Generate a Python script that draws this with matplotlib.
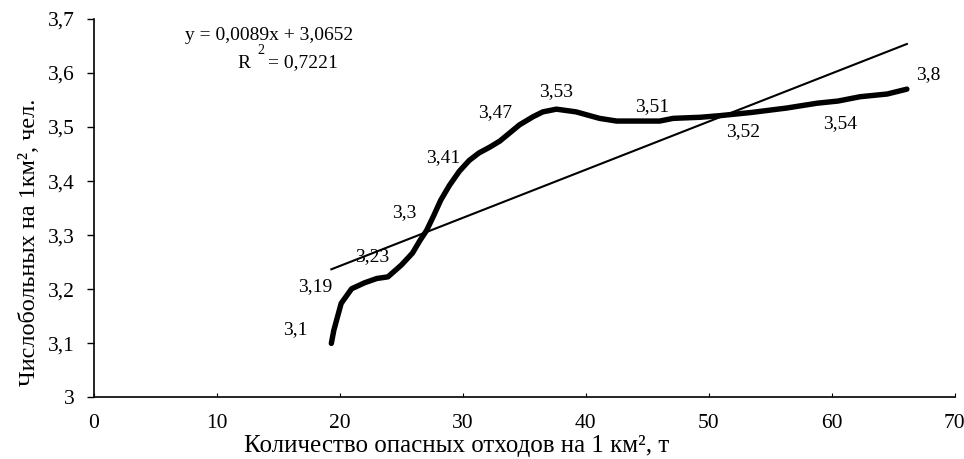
import matplotlib.pyplot as plt
import numpy as np

plt.rcParams['font.family'] = ['Liberation Serif', 'DejaVu Serif']

# Traced curve: waste per km² vs. patients per km²
waste = [19.3, 19.5, 20.1, 20.95, 22.0, 23.0, 23.9, 25.0, 25.9, 26.5, 27.05,
         27.6, 28.2, 28.9, 29.7, 30.5, 31.3, 32.2, 33.0, 34.6, 35.7, 36.5,
         37.6, 39.2, 41.1, 42.5, 46.0, 47.1, 49.3, 50.9, 53.5, 56.3, 58.8,
         60.5, 62.3, 64.5, 66.1]
patients = [3.100, 3.124, 3.174, 3.201, 3.212, 3.220, 3.223, 3.245, 3.267,
            3.290, 3.309, 3.335, 3.365, 3.392, 3.418, 3.438, 3.452, 3.463,
            3.474, 3.504, 3.519, 3.528, 3.533, 3.528, 3.516, 3.511, 3.511,
            3.516, 3.518, 3.521, 3.527, 3.535, 3.544, 3.548, 3.556, 3.561,
            3.570]

# Value labels and where they sit
label_text = ['3,1', '3,19', '3,23', '3,3', '3,41', '3,47', '3,53', '3,51',
              '3,52', '3,54', '3,8']
label_x = [16.4, 18.0, 22.6, 25.2, 28.4, 32.6, 37.6, 45.4, 52.8, 60.7, 67.8]
label_y = [3.125, 3.205, 3.260, 3.342, 3.444, 3.526, 3.565, 3.538, 3.492,
           3.507, 3.597]

# Linear trend
slope = 0.0089
intercept = 3.0652
r2 = 0.7221

fig = plt.figure(figsize=(9.64, 4.59), dpi=100)
ax = fig.add_axes([0.0975, 0.134, 0.893, 0.825])

trend_x = np.array([waste[0], waste[-1]])
ax.plot(trend_x, slope * trend_x + intercept, color='black', lw=1.5)
ax.plot(waste, patients, color='black', lw=3.9, solid_joinstyle='round',
        solid_capstyle='round')

for t, x, y in zip(label_text, label_x, label_y):
    ax.text(x, y, t, ha='center', va='center', fontsize=14)

ax.set_xlim(0, 70)
ax.set_ylim(3, 3.7)
ax.set_xticks(range(0, 71, 10))
yt = np.round(np.arange(3.0, 3.71, 0.1), 1)
ax.set_yticks(yt)
ax.set_yticklabels(['3' if v == 3 else f'{v:.1f}'.replace('.', ',') for v in yt])

ax.spines['top'].set_visible(False)
ax.spines['right'].set_visible(False)
for s in ('left', 'bottom'):
    ax.spines[s].set_linewidth(1.2)
ax.tick_params(axis='y', direction='out', length=5, width=1.0, pad=9,
               labelsize=15.5)
ax.tick_params(axis='x', direction='in', length=3, width=0.8, pad=12,
               labelsize=15.5)

fig.text(30 / 964, 1 - 242 / 459, 'Числобольных на 1км², чел.',
         rotation=90, ha='center', va='center', fontsize=17.5)
fig.text(457 / 964, 1 - 446 / 459, 'Количество опасных отходов на 1 км², т',
         ha='center', va='center', fontsize=18)

# Trend equation
fig.text(185 / 964, 1 - 36 / 459,
         f'y = {slope:.4f}x + {intercept:.4f}'.replace('.', ','),
         ha='left', va='center', fontsize=14)
fig.text(237 / 964, 1 - 63 / 459, 'R', ha='left', va='center', fontsize=14)
fig.text(257 / 964, 1 - 50 / 459, '2', ha='left', va='center', fontsize=10)
fig.text(268 / 964, 1 - 63 / 459, f'= {r2:.4f}'.replace('.', ','),
         ha='left', va='center', fontsize=14)

fig.savefig('out.png', dpi=100)
